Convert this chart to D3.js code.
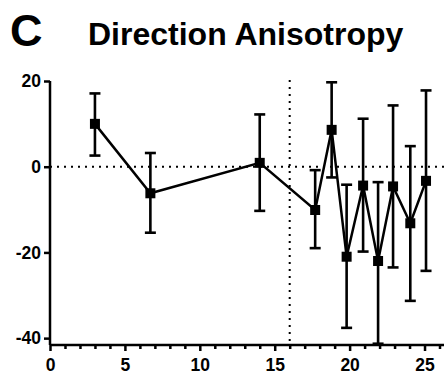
<!DOCTYPE html>
<html>
<head>
<meta charset="utf-8">
<script src="https://d3js.org/d3.v7.min.js"></script>
<style>
  body { margin: 0; background: white; }
  svg { display: block; font-family: "Liberation Sans", Arial, sans-serif; }
</style>
</head>
<body>
<svg id="chart" width="444" height="376"></svg>
<script>
  // values
  var xs    = [3.0, 6.7, 14.0, 17.7, 18.8, 19.8, 20.9, 21.9, 22.9, 24.05, 25.1];
  var means = [10.0, -6.2, 0.9, -10.1, 8.6, -21.0, -4.4, -22.0, -4.6, -13.2, -3.3];
  var upper = [17.1, 3.2, 12.2, -0.8, 19.7, -4.2, 11.2, -3.6, 14.3, 4.8, 17.8];
  var lower = [2.6, -15.4, -10.3, -19.0, -2.5, -37.6, -19.8, -41.3, -23.5, -31.3, -24.3];
  var xTicks = [0, 5, 10, 15, 20, 25];
  var yTicks = [20, 0, -20, -40];
  var splitX = 16;

  var svg = d3.select("#chart");
  var x = d3.scaleLinear().domain([0, 26.3]).range([50, 444]);
  var y = d3.scaleLinear().domain([-41.6, 20]).range([345, 81]);
  var fmt = function(d) { return String(d); };  // plain hyphen minus like the original

  var data = xs.map(function(d, i) {
    return { x: d, m: means[i], hi: upper[i], lo: lower[i] };
  });

  // title
  svg.append("text").attr("x", 10).attr("y", 46)
    .style("font-size", "45px").style("font-weight", "bold").text("C");
  svg.append("text").attr("x", 88).attr("y", 45)
    .style("font-size", "32px").style("font-weight", "bold").text("Direction Anisotropy");

  // reference lines
  svg.append("line")
    .attr("x1", x(0)).attr("x2", 444).attr("y1", y(0)).attr("y2", y(0))
    .attr("stroke", "black").attr("stroke-width", 2).attr("stroke-dasharray", "2,5");
  svg.append("line")
    .attr("x1", x(splitX)).attr("x2", x(splitX)).attr("y1", 80).attr("y2", 343)
    .attr("stroke", "black").attr("stroke-width", 2).attr("stroke-dasharray", "2,5");

  // axes
  var xAxis = svg.append("g").attr("transform", "translate(0," + 345 + ")");
  xAxis.call(d3.axisBottom(x).tickValues(d3.range(0, 27, 1)).tickSize(4).tickFormat(""));
  xAxis.call(function(g) {
    g.selectAll(".tick").filter(function(d) { return d % 5 == 0; }).select("line").attr("y2", 6);
  });
  xAxis.selectAll("line, path").attr("stroke", "black").attr("stroke-width", 2.5);
  xAxis.select(".domain").attr("d", "M" + x(0) + ",0H444");
  svg.append("g").attr("transform", "translate(0," + 345 + ")")
    .call(d3.axisBottom(x).tickValues(xTicks).tickSize(0).tickPadding(14).tickFormat(fmt))
    .call(function(g) { g.select(".domain").remove(); })
    .selectAll("text").style("font-size", "17.5px").style("font-weight", "bold")
    .style("font-family", "'Liberation Sans', Arial, sans-serif").attr("fill", "black");

  var yAxis = svg.append("g").attr("transform", "translate(" + 50 + ",0)")
    .call(d3.axisLeft(y).tickValues(yTicks).tickSize(6).tickPadding(3).tickFormat(fmt));
  yAxis.selectAll("line, path").attr("stroke", "black").attr("stroke-width", 2.5);
  yAxis.select(".domain").attr("d", "M0," + y(20) + "V345");
  yAxis.selectAll("text").style("font-size", "17.5px").style("font-weight", "bold")
    .style("font-family", "'Liberation Sans', Arial, sans-serif").attr("fill", "black");

  // error bars
  var eb = svg.append("g").attr("stroke", "black").attr("stroke-width", 2.6);
  eb.selectAll(".bar").data(data).enter().append("line")
    .attr("x1", function(d) { return x(d.x); }).attr("x2", function(d) { return x(d.x); })
    .attr("y1", function(d) { return y(d.hi); }).attr("y2", function(d) { return y(d.lo); });
  eb.selectAll(".capHi").data(data).enter().append("line")
    .attr("x1", function(d) { return x(d.x) - 5.5; }).attr("x2", function(d) { return x(d.x) + 5.5; })
    .attr("y1", function(d) { return y(d.hi); }).attr("y2", function(d) { return y(d.hi); });
  eb.selectAll(".capLo").data(data).enter().append("line")
    .attr("x1", function(d) { return x(d.x) - 5.5; }).attr("x2", function(d) { return x(d.x) + 5.5; })
    .attr("y1", function(d) { return y(d.lo); }).attr("y2", function(d) { return y(d.lo); });

  // connecting line
  var line = d3.line().x(function(d) { return x(d.x); }).y(function(d) { return y(d.m); });
  svg.append("path").datum(data).attr("d", line)
    .attr("fill", "none").attr("stroke", "black").attr("stroke-width", 2.5);

  // markers
  svg.selectAll(".pt").data(data).enter().append("rect")
    .attr("x", function(d) { return x(d.x) - 5; }).attr("y", function(d) { return y(d.m) - 5; })
    .attr("width", 10).attr("height", 10).attr("fill", "black");
</script>
</body>
</html>
